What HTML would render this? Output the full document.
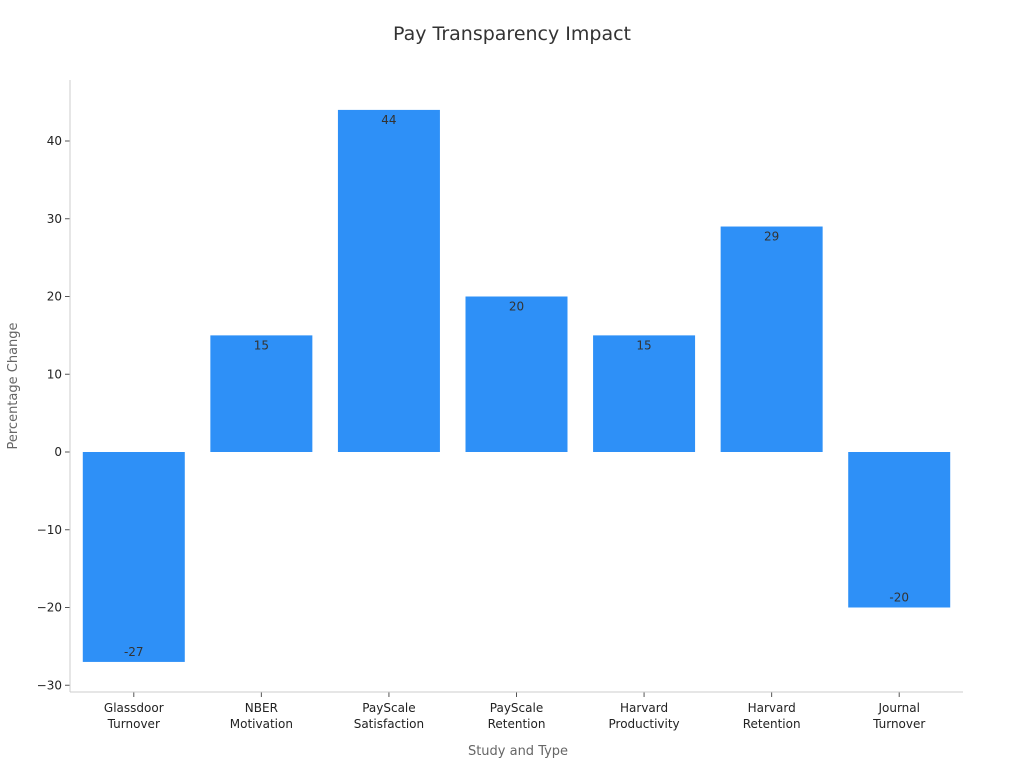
<!DOCTYPE html>
<html><head><meta charset="utf-8"><style>
body{margin:0;background:#fff;}
svg{font-family:"DejaVu Sans","Liberation Sans",sans-serif;}
</style></head><body>
<svg id="chart" width="1024" height="768">
<text x="512" y="40" text-anchor="middle" font-size="19" fill="#333">Pay Transparency Impact</text>
<text x="518" y="755" text-anchor="middle" font-size="13" fill="#666">Study and Type</text>
<text transform="translate(17,386) rotate(-90)" text-anchor="middle" font-size="13" fill="#666">Percentage Change</text>
<g id="plot"></g>
</svg>
<script>
const categories=[["Glassdoor","Turnover"],["NBER","Motivation"],["PayScale","Satisfaction"],["PayScale","Retention"],["Harvard","Productivity"],["Harvard","Retention"],["Journal","Turnover"]];
const values=[-27,15,44,20,15,29,-20];
const yTicks=[-30,-20,-10,0,10,20,30,40];
const NS="http://www.w3.org/2000/svg";
const plotG=document.getElementById('plot');
const plotLeft=70,plotRight=963,plotTop=80,plotBottom=692;
const yScale=v=>452-v*7.775;
const stepW=(plotRight-plotLeft)/categories.length;
const xScale=i=>plotLeft+stepW*(i+0.5);
function mk(t,a,txt){const e=document.createElementNS(NS,t);for(const k in a)e.setAttribute(k,a[k]);if(txt!==undefined)e.textContent=txt;plotG.appendChild(e);return e;}
values.forEach((v,i)=>{
 const r=mk('rect',{x:xScale(i)-51,y:Math.min(yScale(v),yScale(0)),width:102,height:Math.abs(yScale(v)-yScale(0)),fill:'#2e90f7'});
 
 
 const ly=v>=0?yScale(v)+14:yScale(v)-6;
 const t=mk('text',{x:xScale(i),y:ly,'text-anchor':'middle','font-size':12,fill:'#333'},String(v));
 
 
 mk('line',{x1:xScale(i),x2:xScale(i),y1:plotBottom,y2:plotBottom+5,stroke:'#555'});
 categories[i].forEach((s,j)=>{
  const c=mk('text',{x:xScale(i),y:plotBottom+20+j*16,'text-anchor':'middle','font-size':12,fill:'#222'},s);
  
  
 });
});
yTicks.forEach(v=>{
 mk('line',{x1:plotLeft-5,x2:plotLeft,y1:yScale(v),y2:yScale(v),stroke:'#555'});
 const t=mk('text',{x:plotLeft-8,y:yScale(v)+4,'text-anchor':'end','font-size':12,fill:'#222'},v<0?'\u2212'+(-v):String(v));
 
 
});
const ya=mk('line',{x1:plotLeft,x2:plotLeft,y1:plotTop,y2:plotBottom,stroke:'#ccc'});


const xa=mk('line',{x1:plotLeft,x2:plotRight,y1:plotBottom,y2:plotBottom,stroke:'#ccc'});


</script>
</body></html>
